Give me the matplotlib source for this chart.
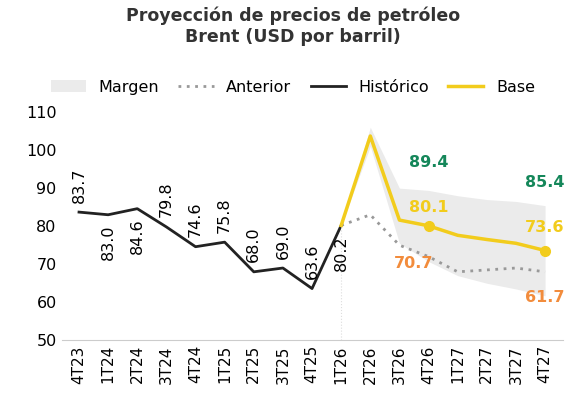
import matplotlib
matplotlib.use("Agg")
import matplotlib.pyplot as plt

quarters = ["4T23", "1T24", "2T24", "3T24", "4T24", "1T25", "2T25", "3T25", "4T25",
            "1T26", "2T26", "3T26", "4T26", "1T27", "2T27", "3T27", "4T27"]
historico = [83.7, 83.0, 84.6, 79.8, 74.6, 75.8, 68.0, 69.0, 63.6, 80.2]
base = [80.2, 103.7, 81.6, 80.1, 77.6, 76.5, 75.5, 73.6]
anterior = [80.2, 83.0, 75.0, 72.0, 68.0, 68.5, 69.0, 68.0]
upper = [80.2, 106.0, 90.0, 89.4, 88.0, 87.0, 86.5, 85.4]
lower = [80.2, 101.0, 75.5, 70.7, 67.0, 65.0, 63.5, 61.7]

YELLOW = "#f2cc1c"
GREEN = "#15875a"
ORANGE = "#f28c3c"

fig, ax = plt.subplots(figsize=(5.86, 4.15), dpi=100)
fig.subplots_adjust(left=0.105, right=0.96, top=0.73, bottom=0.18)

xh = list(range(len(historico)))
xf = list(range(9, 9 + len(base)))

ax.fill_between(xf, lower, upper, color="#ebebeb", lw=0, label="Margen")
ax.plot(xf, anterior, ls=(0, (1, 2)), color="#999999", lw=2, label="Anterior")
ax.plot(xh, historico, color="#222222", lw=2, label="Histórico")
ax.plot(xf, base, color=YELLOW, lw=2.5, label="Base")
ax.plot([12, 16], [base[3], base[7]], "o", color=YELLOW, ms=7)
ax.plot([9, 9], [50, 80.2], ls=":", color="#dddddd", lw=0.8)

for i, v in enumerate(historico):
    up = i in (0, 3, 4, 5, 6, 7, 8)
    y = v + 2.5 if up else v - 2.5
    ax.text(i, y, f"{v:.1f}", rotation=90, ha="center",
            va="bottom" if up else "top", fontsize=11.5)

lab = dict(fontsize=11.5, weight="bold", ha="center", va="center")
ax.text(12, 96.8, "89.4", color=GREEN, **lab)
ax.text(12, 85.0, "80.1", color=YELLOW, **lab)
ax.text(11.5, 70.2, "70.7", color=ORANGE, **lab)
ax.text(16, 91.6, "85.4", color=GREEN, **lab)
ax.text(16, 79.7, "73.6", color=YELLOW, **lab)
ax.text(16, 61.3, "61.7", color=ORANGE, **lab)

ax.set_ylim(50, 110)
ax.set_yticks(range(50, 111, 10))
ax.set_xlim(-0.6, 16.6)
ax.set_xticks(range(len(quarters)))
ax.set_xticklabels(quarters, rotation=90, fontsize=11)
ax.tick_params(axis="y", labelsize=11.5, length=0)
ax.tick_params(axis="x", length=0)
for s in ["top", "right", "left"]:
    ax.spines[s].set_visible(False)
ax.spines["bottom"].set_color("#cccccc")

fig.suptitle("Proyección de precios de petróleo\nBrent (USD por barril)",
             fontsize=12.5, weight="bold", color="#333333", y=0.985)
fig.legend(loc="center", bbox_to_anchor=(0.5, 0.79), ncol=4, frameon=False,
           fontsize=11.5, handlelength=2.2, columnspacing=1.2)

fig.savefig("out.png", dpi=100)
